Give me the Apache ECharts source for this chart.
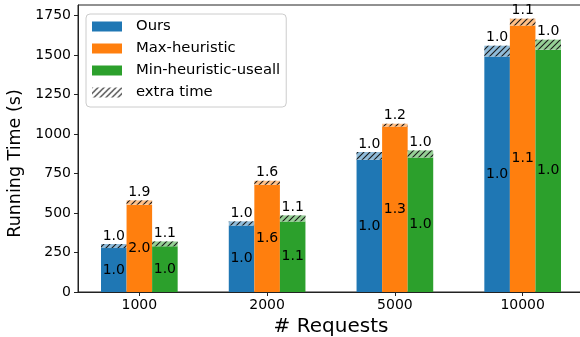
<!DOCTYPE html>
<html>
<head>
<meta charset="utf-8">
<script src="https://cdn.jsdelivr.net/npm/echarts@6/dist/echarts.min.js"></script>
<style>
  html, body { margin: 0; padding: 0; background: #fff; }
  #chart { width: 580px; height: 337px; }
</style>
</head>
<body>
<div id="chart"></div>
<script>
// Request counts on the x axis
const categories = ['1000', '2000', '5000', '10000'];
const methods = ['Ours', 'Max-heuristic', 'Min-heuristic-useall'];
const colors = ['#1f77b4', '#ff7f0e', '#2ca02c'];
const lightColors = ['#8fbbd9', '#ffbf86', '#95cf95'];

// Running time (s): base part and total including extra time
const oursBase  = [278, 421, 837, 1491];
const oursTotal = [304, 447, 886, 1559];
const maxBase   = [553, 679, 1048, 1687];
const maxTotal  = [580, 704, 1065, 1730];
const minBase   = [289, 447, 852, 1534];
const minTotal  = [320, 485, 896, 1597];

const yTicks = [0, 250, 500, 750, 1000, 1250, 1500, 1750];

const baseSets = [oursBase, maxBase, minBase];
const totalSets = [oursTotal, maxTotal, minTotal];

const FONT = "'DejaVu Sans', sans-serif";
const BAR_W = 0.2;

// Diagonal hatch tile ("///")
function hatchTile(bg) {
  const s = 6;
  const c = document.createElement('canvas');
  c.width = s; c.height = s;
  const g = c.getContext('2d');
  if (bg) { g.fillStyle = bg; g.fillRect(0, 0, s, s); }
  g.strokeStyle = '#1a1a1a';
  g.lineWidth = 1.1;
  g.beginPath();
  g.moveTo(-1, s + 1); g.lineTo(s + 1, -1);
  g.moveTo(-1, 1); g.lineTo(1, -1);
  g.moveTo(s - 1, s + 1); g.lineTo(s + 1, s - 1);
  g.stroke();
  return c;
}
const hatch = { image: hatchTile(null), repeat: 'repeat' };

function ratioText(v, ref) { return (v / ref).toFixed(1); }

const maxTotalAll = Math.max(...oursTotal, ...maxTotal, ...minTotal);

const series = methods.map((name, i) => {
  const off = (i - 1) * BAR_W;
  return {
    type: 'custom',
    name: name,
    itemStyle: { color: colors[i] },
    data: categories.map((c, j) => [j, baseSets[i][j], totalSets[i][j]]),
    renderItem: function (params, api) {
      const j = api.value(0);
      const base = api.value(1);
      const total = api.value(2);
      const left = api.coord([j + off - BAR_W / 2, 0]);
      const right = api.coord([j + off + BAR_W / 2, 0]);
      const yb = api.coord([j, base])[1];
      const yt = api.coord([j, total])[1];
      const x0 = left[0], y0 = left[1], w = right[0] - left[0];
      const cx = x0 + w / 2;
      return {
        type: 'group',
        children: [
          { type: 'rect', shape: { x: x0, y: yb, width: w, height: y0 - yb },
            style: { fill: colors[i] } },
          { type: 'rect', shape: { x: x0, y: yt, width: w, height: yb - yt },
            style: { fill: lightColors[i] } },
          { type: 'rect', shape: { x: x0, y: yt, width: w, height: yb - yt },
            style: { fill: hatch } },
          { type: 'text', x: cx, y: yt - 1,
            style: { text: ratioText(total, oursTotal[j]), align: 'center', verticalAlign: 'bottom',
                     fontSize: 14, fontFamily: FONT, fill: '#000' } },
          { type: 'text', x: cx, y: (yb + y0) / 2,
            style: { text: ratioText(base, oursBase[j]), align: 'center', verticalAlign: 'middle',
                     fontSize: 14, fontFamily: FONT, fill: '#000' } }
        ]
      };
    }
  };
});

// Legend-only entry for the hatched extra-time portion
series.push({
  type: 'custom',
  name: 'extra time',
  itemStyle: { color: hatch },
  data: [],
  renderItem: function () { return { type: 'group', children: [] }; }
});

const chart = echarts.init(document.getElementById('chart'), null, { renderer: 'canvas' });
chart.setOption({
  animation: false,
  backgroundColor: '#fff',
  grid: {
    left: 78, right: -4, top: 5, bottom: 45,
    outerBoundsMode: 'none', containLabel: false,
    show: true, borderColor: '#222', borderWidth: 1, backgroundColor: 'transparent'
  },
  legend: {
    orient: 'vertical',
    left: 86, top: 14,
    padding: [5, 6, 7, 6],
    itemWidth: 30, itemHeight: 10, itemGap: 7,
    icon: 'rect',
    backgroundColor: 'rgba(255,255,255,0.8)',
    borderColor: '#cccccc', borderWidth: 1, borderRadius: 4,
    textStyle: { fontSize: 14.8, fontFamily: FONT, color: '#000', lineHeight: 14, padding: [0, 0, 0, 9] },
    data: methods.concat(['extra time'])
  },
  xAxis: {
    type: 'value',
    min: -0.48, max: 3.48,
    name: '# Requests', nameLocation: 'middle', nameGap: 20,
    nameTextStyle: { fontSize: 20, fontFamily: FONT, color: '#000' },
    axisLine: { onZero: false, lineStyle: { color: '#222', width: 1 } },
    axisTick: { show: true, length: 4, lineStyle: { color: '#222' }, customValues: [0, 1, 2, 3] },
    axisLabel: { customValues: [0, 1, 2, 3], formatter: v => categories[v] ?? '',
                 fontSize: 14, fontFamily: FONT, color: '#000', margin: 6 },
    splitLine: { show: false }
  },
  yAxis: {
    type: 'value',
    min: 0, max: maxTotalAll * 1.05,
    name: 'Running Time (s)', nameLocation: 'middle', nameGap: 47,
    nameTextStyle: { fontSize: 17.5, fontFamily: FONT, color: '#000', padding: [0, 30, 0, 0] },
    axisLine: { show: true, onZero: false, lineStyle: { color: '#222', width: 1 } },
    axisTick: { show: true, length: 4, lineStyle: { color: '#222' }, customValues: yTicks },
    axisLabel: { customValues: yTicks, formatter: v => String(v),
                 fontSize: 14, fontFamily: FONT, color: '#000', margin: 7 },
    splitLine: { show: false }
  },
  series: series
});
</script>
</body>
</html>
